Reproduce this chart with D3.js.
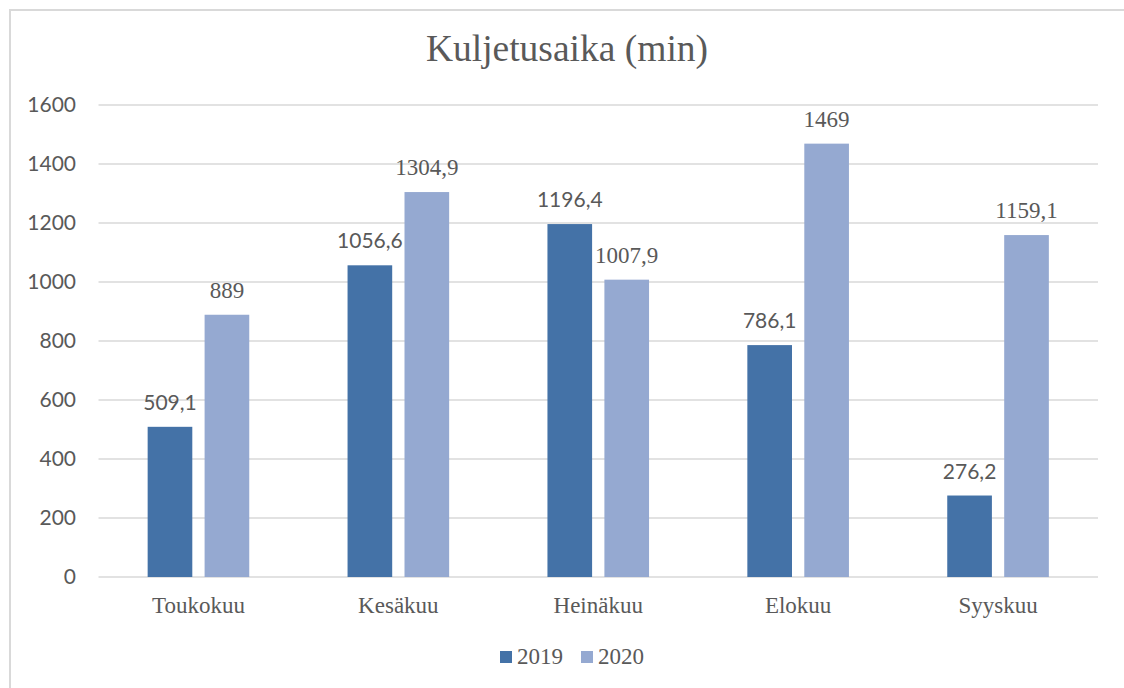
<!DOCTYPE html>
<html>
<head>
<meta charset="utf-8">
<script src="https://cdn.jsdelivr.net/npm/d3@7"></script>
<style>
  html, body { margin: 0; padding: 0; background: #fff; }
  svg { display: block; }
</style>
</head>
<body>
<svg id="chart" width="1124" height="688"></svg>
<script>
const categories = ["Toukokuu", "Kesäkuu", "Heinäkuu", "Elokuu", "Syyskuu"];
const seriesNames = ["2019", "2020"];
const values2019 = [509.1, 1056.6, 1196.4, 786.1, 276.2];
const values2020 = [889, 1304.9, 1007.9, 1469, 1159.1];
const yTicks = [0, 200, 400, 600, 800, 1000, 1200, 1400, 1600];
const title = "Kuljetusaika (min)";

const colors = { "2019": "#4472a7", "2020": "#95a9d1" };
const textColor = "#595959";
const gridColor = "#d9d9d9";
const serif = "'Liberation Serif', 'Times New Roman', serif";
const sans = "Lato, 'Open Sans', sans-serif";

const svg = d3.select("#chart");
const W = 1124, H = 688;

// outer border
svg.append("rect")
  .attr("x", 10).attr("y", 10)
  .attr("width", W + 20).attr("height", H + 20)
  .attr("fill", "#fff")
  .attr("stroke", gridColor).attr("stroke-width", 2);

const plot = { left: 98.5, right: 1098, top: 105, bottom: 577 };

const x0 = d3.scaleBand().domain(categories).range([plot.left, plot.right]).paddingInner(0).paddingOuter(0);
const x1 = d3.scaleBand().domain(seriesNames).range([0, x0.bandwidth()]).paddingInner(0.216).paddingOuter(0.863);
const y = d3.scaleLinear().domain([0, 1600]).range([plot.bottom, plot.top]);

// gridlines
svg.append("g").selectAll("line").data(yTicks).join("line")
  .attr("x1", plot.left).attr("x2", plot.right)
  .attr("y1", d => y(d)).attr("y2", d => y(d))
  .attr("stroke", gridColor).attr("stroke-width", 1.5);

// y axis labels
const yAxis = d3.axisLeft(y).tickValues(yTicks).tickSize(0).tickPadding(0).tickFormat(d3.format("d"));
const yg = svg.append("g").attr("transform", `translate(76,0)`).call(yAxis);
yg.select(".domain").remove();
yg.selectAll("text")
  .style("font-family", sans)
  .style("font-size", "21px")
  .attr("fill", textColor)
  .attr("dy", "0.3em");

// series data
const data = categories.map((c, i) => ({ cat: c, vals: [
  { s: "2019", v: values2019[i] },
  { s: "2020", v: values2020[i] }
]}));

const groups = svg.append("g").selectAll("g").data(data).join("g")
  .attr("transform", d => `translate(${x0(d.cat)},0)`);

groups.selectAll("rect").data(d => d.vals).join("rect")
  .attr("x", d => x1(d.s))
  .attr("width", x1.bandwidth())
  .attr("y", d => y(d.v))
  .attr("height", d => y(0) - y(d.v))
  .attr("fill", d => colors[d.s]);

const fmt = v => String(v).replace(".", ",");
groups.selectAll("text.lbl").data(d => d.vals).join("text")
  .attr("class", "lbl")
  .attr("x", d => x1(d.s) + x1.bandwidth() / 2)
  .attr("y", d => y(d.v) - 17)
  .attr("text-anchor", "middle")
  .style("font-family", d => d.s === "2019" ? sans : serif)
  .style("font-size", d => d.s === "2019" ? "21px" : "23px")
  .attr("fill", textColor)
  .text(d => fmt(d.v));

// x axis category labels
const xAxis = d3.axisBottom(x0).tickSize(0).tickPadding(0);
const xg = svg.append("g").attr("transform", `translate(0,${plot.bottom})`).call(xAxis);
xg.select(".domain").remove();
xg.selectAll("text")
  .style("font-family", serif)
  .style("font-size", "23px")
  .attr("fill", textColor)
  .attr("dy", null)
  .attr("y", 36);

// title
svg.append("text")
  .attr("x", 567).attr("y", 61)
  .attr("text-anchor", "middle")
  .style("font-family", serif)
  .style("font-size", "37.5px")
  .attr("fill", textColor)
  .text(title);

// legend
const legendPos = [{ s: "2019", x: 500 }, { s: "2020", x: 581 }];
const lg = svg.append("g").selectAll("g").data(legendPos).join("g")
  .attr("transform", d => `translate(${d.x},651)`);
lg.append("rect").attr("width", 12).attr("height", 12).attr("fill", d => colors[d.s]);
lg.append("text")
  .attr("x", 17).attr("y", 12.5)
  .style("font-family", serif)
  .style("font-size", "23px")
  .attr("fill", textColor)
  .text(d => d.s);
</script>
</body>
</html>
